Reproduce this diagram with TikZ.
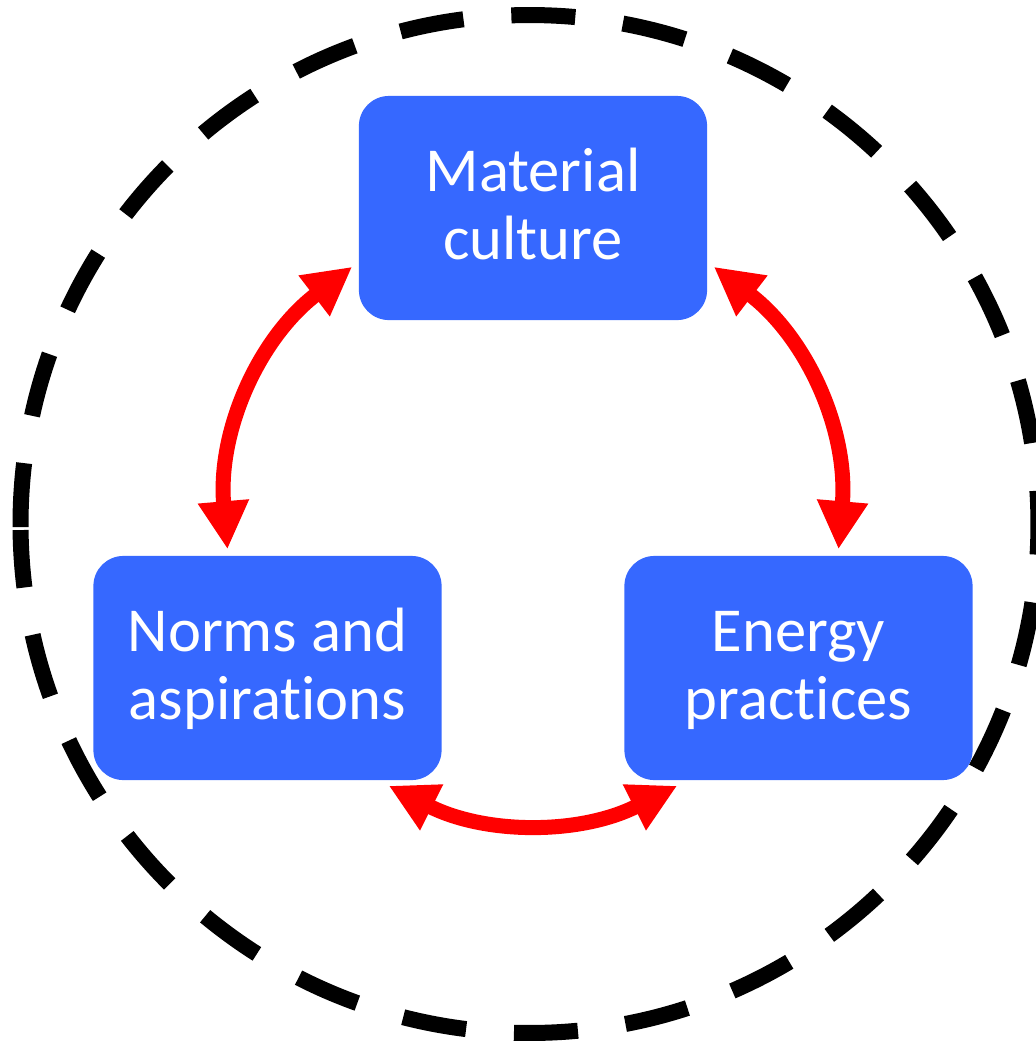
\documentclass[tikz,border=0pt]{standalone}
\usepackage{fontspec}
\setmainfont{Carlito}[Ligatures={NoCommon,NoRare,NoContextual}]
\usetikzlibrary{arrows.meta}
\definecolor{boxblue}{RGB}{54,104,255}
\begin{document}
\begin{tikzpicture}[x=0.01cm,y=-0.01cm,
  box/.style={draw=none, fill=boxblue, rounded corners=0.3cm, minimum width=3.48cm,
    minimum height=2.24cm, inner sep=0pt, text=white, align=center,
    font=\fontsize{17.8pt}{19.35pt}\selectfont, text height=1.10cm, text depth=0.07cm},
  link/.style={red, line width=0.15cm,
    {Triangle[length=0.48cm,width=0.48cm]}-{Triangle[length=0.48cm,width=0.48cm]}},
  ring/.style={line width=0.16cm, dash pattern=on 0.64cm off 0.48cm}]
\useasboundingbox (0,0) rectangle (1036,1041);
\draw[ring] (529.5,524) ++(179.66:509) arc[start angle=179.66, end angle=539.32, radius=509];
\node[box] (mat) at (533,208) {Material\\culture};
\node[box] (norms) at (267.5,668) {Norms and\\aspirat\kern0pt ions};
\node[box] (energy) at (798.5,668) {Energy\\practices};
\draw[link] ([shift={(-6,-54)}]mat.south west) .. controls +(-94,72) and +(-10,-118) .. ([shift={(-40,-6)}]norms.north);
\draw[link] ([shift={(6,-54)}]mat.south east) .. controls +(94,72) and +(10,-118) .. ([shift={(40,-6)}]energy.north);
\draw[link] ([shift={(-53.5,5)}]norms.south east) .. controls +(97,49) and +(-97,49) .. ([shift={(53.5,5)}]energy.south west);
\end{tikzpicture}
\end{document}
